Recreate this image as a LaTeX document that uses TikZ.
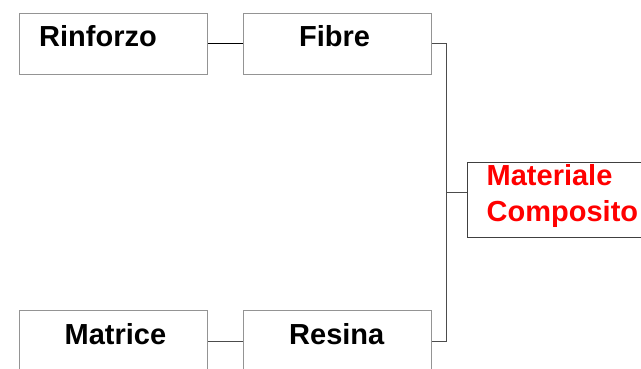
\documentclass[tikz,border=0pt]{standalone}
\usepackage{fontspec}
\setmainfont{Liberation Sans}
\begin{document}
\begin{tikzpicture}[x=1pt,y=-1pt,
  box/.style={draw=black!42,line width=1pt,minimum width=188pt,minimum height=61.3pt,inner sep=0pt,anchor=north west},
  lbl/.style={font=\fontsize{29}{36}\selectfont\bfseries,anchor=base west,inner sep=0pt},
  conn/.style={draw=black!70,line width=1pt}]
\useasboundingbox (0,0) rectangle (641,368);
\clip (0,0) rectangle (641,368);
\node[box] (rinf) at (19.3,12.7) {};
\node[box] (fib) at (243,12.7) {};
\node[box] (mat) at (19.3,310) {};
\node[box] (res) at (243,310) {};
\node[box,draw=black!75,minimum width=200pt,minimum height=74.7pt] (comp) at (466.7,162) {};
\node[lbl] (trinf) at (39,46.7) {Rinforzo};
\node[lbl] (tfib) at (299,46.3) {Fibre};
\node[lbl] (tmat) at (64.5,344.5) {Matrice};
\node[lbl] (tres) at (289,344.8) {Resina};
\node[lbl,text=red] (tcomp1) at (486.5,185.7) {Materiale};
\node[lbl,text=red] (tcomp2) at (486.5,221.7) {Composito};
\coordinate (j) at (446.7,192);
\draw[conn,draw=black] (rinf.east) -- (fib.west);
\draw[conn] (mat.east) -- (res.west);
\draw[conn] (fib.east) -- (fib.east -| j) |- (res.east);
\draw[conn] (j) -- (j -| comp.west);
\end{tikzpicture}
\end{document}
